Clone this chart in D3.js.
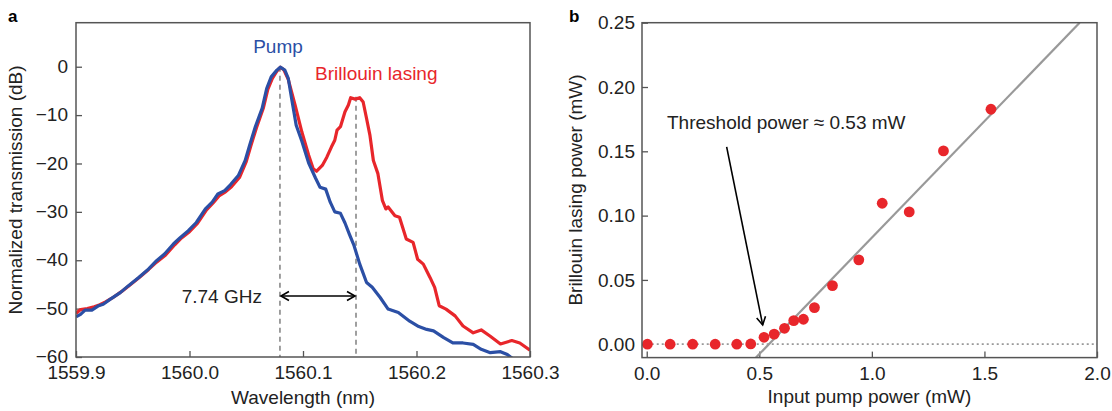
<!DOCTYPE html>
<html>
<head>
<meta charset="utf-8">
<script src="https://cdn.jsdelivr.net/npm/d3@7"></script>
<style>
  body { margin: 0; background: #fff; }
  svg { display: block; font-family: "Liberation Sans", Arial, sans-serif; }
  .tick text { font-size: 19px; fill: #222; }
</style>
</head>
<body>
<div class="chart"></div>
<script>
const WIDTH = 1112;
const HEIGHT = 411;

// panel a: transmission spectra
const pumpWl = [1559.900, 1559.904, 1559.908, 1559.914, 1559.920, 1559.924, 1559.930, 1559.939,
    1559.946, 1559.955, 1559.964, 1559.971, 1559.978, 1559.986, 1559.992, 1559.999, 1560.006,
    1560.014, 1560.020, 1560.025, 1560.031, 1560.036, 1560.043, 1560.049, 1560.053, 1560.058,
    1560.064, 1560.068, 1560.072, 1560.077, 1560.080, 1560.084, 1560.087, 1560.090, 1560.094,
    1560.099, 1560.105, 1560.111, 1560.115, 1560.120, 1560.124, 1560.128, 1560.133, 1560.137,
    1560.141, 1560.145, 1560.150, 1560.156, 1560.161, 1560.168, 1560.175, 1560.184, 1560.194,
    1560.202, 1560.209, 1560.215, 1560.224, 1560.232, 1560.241, 1560.250, 1560.257, 1560.265,
    1560.274, 1560.280, 1560.284, 1560.290];
const pumpDb = [-51.7, -51.2, -50.3, -50.3, -49.4, -49.1, -48.1, -46.7,
    -45.3, -43.6, -41.8, -40.1, -38.7, -36.6, -35.3, -33.9, -32.2,
    -29.4, -28.0, -26.3, -25.6, -24.4, -22.5, -19.4, -16.2, -12.4,
    -8.6, -4.5, -2.1, -0.7, -0.1, -0.7, -2.4, -6.6, -12.1,
    -15.4, -19.9, -23.0, -24.9, -25.3, -28.0, -30.0, -30.3, -32.3,
    -34.7, -37.0, -40.8, -44.6, -45.6, -47.7, -50.1, -50.8, -52.6,
    -53.7, -54.3, -54.6, -56.0, -57.1, -57.1, -57.4, -58.4, -59.1,
    -58.9, -59.5, -60.2, -61.0];

const brillWl = [1559.900, 1559.904, 1559.910, 1559.916, 1559.921, 1559.926, 1559.932, 1559.940,
    1559.947, 1559.956, 1559.964, 1559.971, 1559.979, 1559.987, 1559.993, 1560.000, 1560.007,
    1560.015, 1560.021, 1560.026, 1560.032, 1560.037, 1560.044, 1560.050, 1560.054, 1560.059,
    1560.065, 1560.069, 1560.073, 1560.077, 1560.080, 1560.083, 1560.087, 1560.093, 1560.099,
    1560.105, 1560.109, 1560.112, 1560.117, 1560.121, 1560.125, 1560.128, 1560.130, 1560.133,
    1560.137, 1560.140, 1560.142, 1560.146, 1560.150, 1560.153, 1560.156, 1560.159, 1560.162,
    1560.166, 1560.170, 1560.173, 1560.175, 1560.181, 1560.185, 1560.191, 1560.197, 1560.201,
    1560.206, 1560.212, 1560.216, 1560.220, 1560.226, 1560.234, 1560.241, 1560.250, 1560.257,
    1560.265, 1560.274, 1560.284, 1560.291, 1560.300];
const brillDb = [-51.0, -50.2, -50.0, -49.6, -49.2, -48.6, -47.8, -46.5,
    -45.2, -43.5, -41.9, -40.4, -38.9, -36.8, -35.4, -34.1, -32.4,
    -29.6, -28.1, -26.7, -25.8, -24.8, -22.9, -19.6, -16.4, -12.6,
    -8.6, -4.7, -2.4, -0.9, -0.1, -0.6, -2.6, -7.9, -13.5,
    -18.3, -21.1, -21.6, -20.4, -18.7, -16.6, -15.2, -13.1, -12.4,
    -9.3, -7.9, -6.4, -6.7, -6.4, -7.3, -10.7, -14.2, -19.4,
    -22.1, -27.7, -29.4, -29.0, -30.8, -31.1, -35.6, -36.3, -39.8,
    -40.8, -43.6, -45.6, -49.4, -50.1, -51.5, -53.6, -55.0, -54.4,
    -55.7, -57.3, -56.6, -57.1, -58.6];

const wlTicks = [1559.9, 1560.0, 1560.1, 1560.2, 1560.3];
const dbTicks = [-60, -50, -40, -30, -20, -10, 0];
const pumpPeak = [1560.0797, 0];
const brillPeak = [1560.1467, -6.2];
const spacingLabel = "7.74 GHz";

// panel b: lasing power vs pump power
const inputPower = [0.003, 0.104, 0.204, 0.304, 0.400, 0.462, 0.521, 0.566, 0.612, 0.653,
    0.696, 0.745, 0.825, 0.942, 1.046, 1.166, 1.318, 1.529];
const lasingPower = [0.0, 0.0, 0.0, 0.0, 0.0, 0.0002, 0.0054, 0.0078, 0.0124, 0.0184,
    0.0194, 0.0285, 0.0456, 0.0656, 0.1096, 0.1029, 0.1503, 0.1827];
const fitX = [0.485, 1.923];
const fitY = [-0.0104, 0.25];
const powerTicks = [0, 0.5, 1.0, 1.5, 2.0];
const lasingTicks = [0, 0.05, 0.10, 0.15, 0.20, 0.25];

const BLUE = "#2b4fa5";
const RED = "#e8262b";
const AXIS = "#555";

const svg = d3.select(".chart").append("svg")
    .attr("width", WIDTH)
    .attr("height", HEIGHT);

svg.append("defs").append("marker")
    .attr("id", "head")
    .attr("viewBox", "-10 -6 12 12")
    .attr("refX", 0).attr("refY", 0)
    .attr("markerWidth", 12).attr("markerHeight", 12)
    .attr("markerUnits", "userSpaceOnUse")
    .attr("orient", "auto-start-reverse")
    .append("path")
    .attr("d", "M-8,-4.5 L0,0 L-8,4.5")
    .attr("fill", "none")
    .attr("stroke", "#000")
    .attr("stroke-width", 1.6);

// ---------- panel a ----------
const A = {left: 76, right: 530, top: 22.7, bottom: 357};
const xA = d3.scaleLinear().domain([1559.9, 1560.3]).range([A.left, A.right]);
const yA = d3.scaleLinear().domain([-60, 9.1]).range([A.bottom, A.top]);

svg.append("clipPath").attr("id", "clipA").append("rect")
    .attr("x", A.left).attr("y", A.top)
    .attr("width", A.right - A.left).attr("height", A.bottom - A.top);

const gA = svg.append("g");

gA.append("g")
    .attr("transform", "translate(0," + A.bottom + ")")
    .call(d3.axisBottom(xA).tickValues(wlTicks).tickFormat(d3.format(".1f"))
        .tickSizeInner(-6).tickSizeOuter(0).tickPadding(9))
    .call(g => g.select(".domain").remove())
    .call(g => g.selectAll("line").attr("stroke", AXIS).attr("stroke-width", 1.3));

gA.append("g")
    .attr("transform", "translate(" + A.left + ",0)")
    .call(d3.axisLeft(yA).tickValues(dbTicks).tickFormat(d3.format("d"))
        .tickSizeInner(-6).tickSizeOuter(0).tickPadding(8))
    .call(g => g.select(".domain").remove())
    .call(g => g.selectAll("line").attr("stroke", AXIS).attr("stroke-width", 1.3))
    .call(g => g.selectAll("text").attr("dy", "0.30em"));

// dashed markers at the two peaks
gA.selectAll(".peakline")
    .data([pumpPeak, brillPeak])
    .enter().append("line")
    .attr("x1", d => xA(d[0])).attr("x2", d => xA(d[0]))
    .attr("y1", d => yA(d[1])).attr("y2", yA(-60))
    .attr("stroke", "#777").attr("stroke-width", 1.4)
    .attr("stroke-dasharray", "5,4");

const lineA = d3.line().x(d => xA(d[0])).y(d => yA(d[1]));

gA.append("path")
    .datum(brillWl.map((w, i) => [w, brillDb[i]]))
    .attr("clip-path", "url(#clipA)")
    .attr("d", lineA)
    .attr("fill", "none").attr("stroke", RED).attr("stroke-width", 3.2)
    .attr("stroke-linejoin", "round");

gA.append("path")
    .datum(pumpWl.map((w, i) => [w, pumpDb[i]]))
    .attr("clip-path", "url(#clipA)")
    .attr("d", lineA)
    .attr("fill", "none").attr("stroke", BLUE).attr("stroke-width", 3.2)
    .attr("stroke-linejoin", "round");

gA.append("rect")
    .attr("x", A.left).attr("y", A.top)
    .attr("width", A.right - A.left).attr("height", A.bottom - A.top)
    .attr("fill", "none").attr("stroke", AXIS).attr("stroke-width", 1.5);

// double arrow for the spacing
gA.append("line")
    .attr("x1", xA(pumpPeak[0]) + 1).attr("x2", xA(brillPeak[0]) - 1)
    .attr("y1", yA(-47.4)).attr("y2", yA(-47.4))
    .attr("stroke", "#000").attr("stroke-width", 1.6)
    .attr("marker-start", "url(#head)")
    .attr("marker-end", "url(#head)");

gA.append("text")
    .attr("x", xA(pumpPeak[0]) - 18).attr("y", yA(-47.4))
    .attr("dy", "0.35em")
    .attr("text-anchor", "end")
    .attr("font-size", 19).attr("fill", "#222")
    .text(spacingLabel);

gA.append("text")
    .attr("x", 278).attr("y", 53)
    .attr("text-anchor", "middle")
    .attr("font-size", 19).attr("fill", BLUE)
    .text("Pump");

gA.append("text")
    .attr("x", 315).attr("y", 80)
    .attr("font-size", 19).attr("fill", RED)
    .text("Brillouin lasing");

gA.append("text")
    .attr("x", (A.left + A.right) / 2).attr("y", 404)
    .attr("text-anchor", "middle")
    .attr("font-size", 19).attr("fill", "#222")
    .text("Wavelength (nm)");

gA.append("text")
    .attr("transform", "translate(22," + 190 + ") rotate(-90)")
    .attr("text-anchor", "middle")
    .attr("font-size", 19).attr("fill", "#222")
    .text("Normalized transmission (dB)");

svg.append("text")
    .attr("x", 8).attr("y", 22)
    .attr("font-size", 17).attr("font-weight", "bold")
    .text("a");

// ---------- panel b ----------
const B = {left: 642, right: 1097, top: 22.7, bottom: 357.6};
const xB = d3.scaleLinear().domain([-0.021, 2.0]).range([B.left, B.right]);
const yB = d3.scaleLinear().domain([-0.0104, 0.25]).range([B.bottom, B.top]);

svg.append("clipPath").attr("id", "clipB").append("rect")
    .attr("x", B.left).attr("y", B.top)
    .attr("width", B.right - B.left).attr("height", B.bottom - B.top);

const gB = svg.append("g");

gB.append("g")
    .attr("transform", "translate(0," + B.bottom + ")")
    .call(d3.axisBottom(xB).tickValues(powerTicks).tickFormat(d3.format(".1f"))
        .tickSizeInner(-6).tickSizeOuter(0).tickPadding(9))
    .call(g => g.select(".domain").remove())
    .call(g => g.selectAll("line").attr("stroke", AXIS).attr("stroke-width", 1.3));

gB.append("g")
    .attr("transform", "translate(" + B.left + ",0)")
    .call(d3.axisLeft(yB).tickValues(lasingTicks).tickFormat(d3.format(".2f"))
        .tickSizeInner(-6).tickSizeOuter(0).tickPadding(7))
    .call(g => g.select(".domain").remove())
    .call(g => g.selectAll("line").attr("stroke", AXIS).attr("stroke-width", 1.3));

// dotted zero level
gB.append("line")
    .attr("x1", xB(0)).attr("x2", B.right)
    .attr("y1", yB(0)).attr("y2", yB(0))
    .attr("stroke", "#999").attr("stroke-width", 1.8)
    .attr("stroke-dasharray", "2,3");

// linear fit
gB.append("line")
    .attr("clip-path", "url(#clipB)")
    .attr("x1", xB(fitX[0])).attr("y1", yB(fitY[0]))
    .attr("x2", xB(fitX[1])).attr("y2", yB(fitY[1]))
    .attr("stroke", "#999").attr("stroke-width", 2.2);

gB.selectAll(".dot")
    .data(inputPower.map((p, i) => [p, lasingPower[i]]))
    .enter().append("circle")
    .attr("class", "dot")
    .attr("cx", d => xB(d[0]))
    .attr("cy", d => yB(d[1]))
    .attr("r", 5.4)
    .attr("fill", RED);

gB.append("rect")
    .attr("x", B.left).attr("y", B.top)
    .attr("width", B.right - B.left).attr("height", B.bottom - B.top)
    .attr("fill", "none").attr("stroke", AXIS).attr("stroke-width", 1.5);

gB.append("text")
    .attr("x", 667).attr("y", 129)
    .attr("font-size", 19).attr("fill", "#222")
    .text("Threshold power \u2248 0.53 mW");

gB.append("line")
    .attr("x1", xB(0.355)).attr("y1", yB(0.1535))
    .attr("x2", xB(0.515)).attr("y2", yB(0.0150))
    .attr("stroke", "#000").attr("stroke-width", 1.6)
    .attr("marker-end", "url(#head)");

gB.append("text")
    .attr("x", (B.left + B.right) / 2).attr("y", 403)
    .attr("text-anchor", "middle")
    .attr("font-size", 19).attr("fill", "#222")
    .text("Input pump power (mW)");

gB.append("text")
    .attr("transform", "translate(582," + 190 + ") rotate(-90)")
    .attr("text-anchor", "middle")
    .attr("font-size", 19).attr("fill", "#222")
    .text("Brillouin lasing power (mW)");

svg.append("text")
    .attr("x", 569).attr("y", 22)
    .attr("font-size", 17).attr("font-weight", "bold")
    .text("b");
</script>
</body>
</html>
